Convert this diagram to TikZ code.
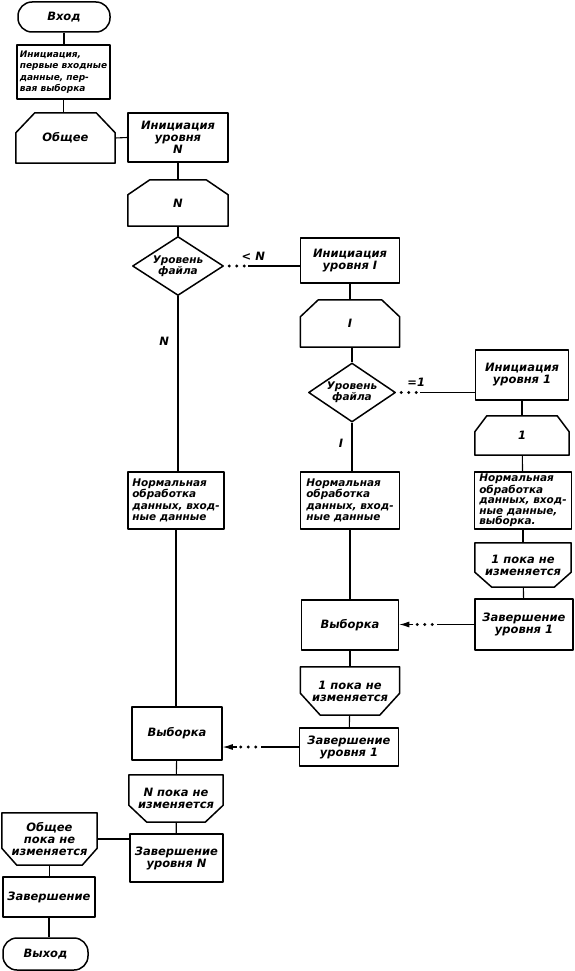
\documentclass[tikz,border=0pt]{standalone}
\usepackage{fontspec}
\setmainfont{DejaVu Sans}
\usetikzlibrary{shapes.geometric,arrows.meta}
% outline of a box with cut top corners: name, cut x, cut y
\newcommand\topcut[3]{\draw[frame] (#1.south west) -- ([yshift=-#3]#1.north west) -- ([xshift=#2]#1.north west) -- ([xshift=-#2]#1.north east) -- ([yshift=-#3]#1.north east) -- (#1.south east) -- cycle;}
% outline of a box with cut bottom corners
\newcommand\botcut[3]{\draw[frame] (#1.north west) -- (#1.north east) -- ([yshift=#3]#1.south east) -- ([xshift=-#2]#1.south east) -- ([xshift=#2]#1.south west) -- ([yshift=#3]#1.south west) -- cycle;}
\begin{document}
\begin{tikzpicture}[x=1pt,y=-1pt,
  every node/.style={font=\fontsize{11.5}{12}\selectfont\bfseries\itshape},
  frame/.style={line width=1.5pt, line join=round},
  box/.style={draw, frame, inner sep=1pt, align=center},
  lbox/.style={box, align=left, font=\fontsize{10.5}{11.4}\selectfont\bfseries\itshape},
  term/.style={box, rounded corners=14pt},
  cut/.style={inner sep=1pt, align=center},
  decide/.style={draw, frame, diamond, aspect=1.5, inner sep=0pt, align=center, font=\fontsize{10.5}{11}\selectfont\bfseries\itshape},
  link/.style={line width=1.1pt},
  dotrun/.style={line width=3.2pt, line cap=round, dash pattern=on 0pt off 7.5pt, dash phase=2.5pt},
  arrowline/.style={link, -{Latex[length=10pt,width=6pt]}},
]
\useasboundingbox (0,0) rectangle (575,971);
% left column
\node[term, minimum width=92pt, minimum height=30pt] (enter) at (64,17) {Вход};
\node[lbox, minimum width=93pt, minimum height=54pt, font=\fontsize{9}{11.5}\selectfont\bfseries\itshape] (init) at (63.5,72) {Инициация,\\первые входные\\данные, пер-\\вая выборка};
\node[cut, minimum width=99pt, minimum height=50pt] (common) at (65.5,138) {Общее};
\node[box, minimum width=100pt, minimum height=49pt] (initN) at (178,137.5) {Инициация\\уровня\\N};
\node[cut, minimum width=100pt, minimum height=46pt] (loopN) at (178,203) {N};
\node[decide, minimum width=91pt, minimum height=59pt] (fileN) at (178,266) {Уровень\\файла};
\node[lbox, minimum width=96pt, minimum height=57pt] (normN) at (176,500.5) {Нормальная\\обработка\\данных, вход-\\ные данные};
\node[box, minimum width=90pt, minimum height=53pt] (sampleN) at (177,733.5) {Выборка};
\node[cut, minimum width=94pt, minimum height=47pt] (untilN) at (176,798.5) {N пока не\\изменяется};
\node[box, minimum width=93pt, minimum height=48pt] (endN) at (176.5,858) {Завершение\\уровня N};
\node[cut, minimum width=95pt, minimum height=52pt] (untilC) at (49.5,839) {Общее\\пока не\\изменяется};
\node[box, minimum width=92pt, minimum height=40pt] (finish) at (49,897) {Завершение};
\node[term, minimum width=85pt, minimum height=32pt] (exit) at (45.5,954) {Выход};
% middle column
\node[box, minimum width=99pt, minimum height=45pt] (initI) at (350,260.5) {Инициация\\уровня I};
\node[cut, minimum width=99pt, minimum height=47pt] (loopI) at (350,323.5) {I};
\node[decide, minimum width=87pt, minimum height=59pt] (fileI) at (352,392.5) {Уровень\\файла};
\node[lbox, minimum width=99pt, minimum height=57pt] (normI) at (350,500.5) {Нормальная\\обработка\\данных, вход-\\ные данные};
\node[box, minimum width=97pt, minimum height=50pt] (sampleI) at (350,625) {Выборка};
\node[cut, minimum width=99pt, minimum height=48pt] (until1m) at (350,691) {1 пока не\\изменяется};
\node[box, minimum width=99pt, minimum height=38pt] (end1m) at (349,747) {Завершение\\уровня 1};
% right column
\node[box, minimum width=93pt, minimum height=50pt] (init1) at (522,375) {Инициация\\уровня 1};
\node[cut, minimum width=94pt, minimum height=39pt] (loop1) at (522,435.5) {1};
\node[lbox, minimum width=97pt, minimum height=57pt, font=\fontsize{10.5}{10.4}\selectfont\bfseries\itshape] (norm1) at (523,500.5) {Нормальная\\обработка\\данных, вход-\\ные данные,\\выборка.};
\node[cut, minimum width=96pt, minimum height=44pt] (until1r) at (523,565) {1 пока не\\изменяется};
\node[box, minimum width=98pt, minimum height=51pt] (end1r) at (524,624.5) {Завершение\\уровня 1};
% cut shapes
\topcut{common}{19pt}{20pt}
\topcut{loopN}{22pt}{15pt}
\topcut{loopI}{18pt}{17pt}
\topcut{loop1}{12pt}{16pt}
\botcut{until1r}{17pt}{15pt}
\botcut{until1m}{20pt}{22pt}
\botcut{untilN}{18pt}{17pt}
\botcut{untilC}{15pt}{17pt}
% connectors, left
\draw[link] (enter.south) -- (enter.south |- init.north);
\draw[link] (init.south) -- (init.south |- common.north);
\draw[link] (common.east) -- (initN.west);
\draw[link] (initN) -- (loopN);
\draw[link] (loopN) -- (fileN);
\draw[link] (fileN.south) -- (fileN.south |- normN.north) node[pos=0.26, left=5pt] {N};
\draw[link] (normN.south) -- (normN.south |- sampleN.north);
\draw[link] (sampleN) -- (untilN);
\draw[link] (untilN) -- (endN);
\draw[link] (untilC.east) -- (untilC.east -| endN.west);
\draw[link] (untilC.south) -- (untilC.south |- finish.north);
\draw[link] (finish.south) -- (finish.south |- exit.north);
% connectors, middle
\coordinate (dN) at ([xshift=24pt]fileN.east);
\draw[dotrun] (fileN.east) -- (dN);
\draw[link] (dN) -- (dN -| initI.west);
\node (ltN) at ([shift={(29,-10)}]fileN.east) {< N};
\draw[link] (initI) -- (loopI);
\draw[link] (loopI.south -| fileI.north) -- (fileI.north);
\draw[link] (fileI.south) -- (fileI.south |- normI.north) node[pos=0.42, left=5pt] {I};
\draw[link] (normI) -- (sampleI);
\draw[link] (sampleI) -- (until1m);
\draw[link] (until1m) -- (end1m);
\coordinate (pN) at (sampleN.east |- end1m.west);
\draw[link] (end1m.west) -- ([xshift=38pt]pN);
\draw[dotrun] ([xshift=38pt]pN) -- ([xshift=14pt]pN);
\draw[arrowline] ([xshift=14pt]pN) -- (pN);
% connectors, right
\coordinate (dI) at ([xshift=24pt]fileI.east);
\draw[dotrun] (fileI.east) -- (dI);
\draw[link] (dI) -- (dI -| init1.west);
\node (eq1) at ([shift={(20,-10)}]fileI.east) {=1};
\draw[link] (init1) -- (loop1);
\draw[link] (loop1) -- (norm1);
\draw[link] (norm1) -- (until1r);
\draw[link] (until1r) -- (end1r);
\coordinate (pI) at (sampleI.east |- end1r.west);
\draw[link] (end1r.west) -- ([xshift=38pt]pI);
\draw[dotrun] ([xshift=38pt]pI) -- ([xshift=14pt]pI);
\draw[arrowline] ([xshift=14pt]pI) -- (pI);
\end{tikzpicture}
\end{document}
